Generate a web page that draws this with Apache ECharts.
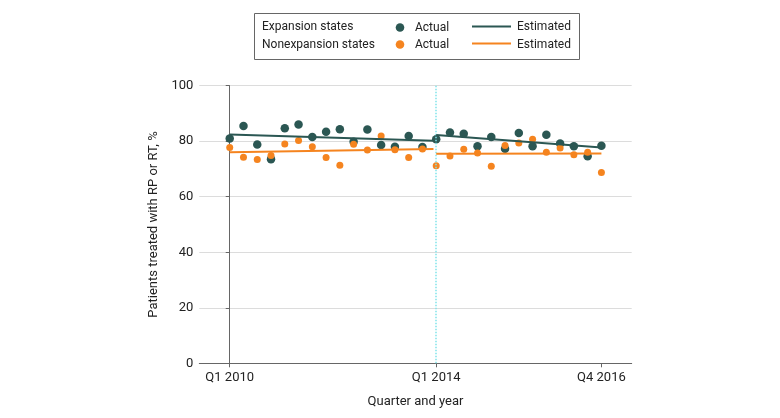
<!DOCTYPE html>
<html>
<head>
<meta charset="utf-8">
<script src="https://cdn.jsdelivr.net/npm/echarts@6/dist/echarts.min.js"></script>
<style>html,body{margin:0;padding:0;background:#fff}#c{width:780px;height:418px}</style>
</head>
<body>
<div id="c"></div>
<script>
// Quarter index 0..27
var tickIndices = [0, 15, 27];
var tickLabels = ["Q1 2010", "Q1 2014", "Q4 2016"];
var breakIndex = 15;

var expansionActual = [81.0, 85.5, 78.8, 73.5, 84.7, 86.0, 81.5, 83.4, 84.3, 79.8, 84.2, 78.6, 78.0, 81.9,
                       77.9, 80.7, 83.1, 82.7, 78.2, 81.5, 77.3, 83.0, 78.2, 82.3, 79.2, 78.2, 74.6, 78.4];
var nonexpansionActual = [77.7, 74.2, 73.4, 74.9, 79.0, 80.3, 78.0, 74.1, 71.3, 78.9, 76.8, 81.9, 76.9, 74.1,
                          77.2, 71.2, 74.7, 77.1, 75.8, 71.0, 78.5, 79.4, 80.7, 76.0, 77.6, 75.1, 76.0, 68.7];
// Estimated trend segments: [quarterIndex, value]
var expansionEstPre = [[0, 82.4], [14.8, 80.2]];
var expansionEstPost = [[15, 82.2], [27, 77.7]];
var nonexpansionEstPre = [[0, 76.0], [14.8, 77.2]];
var nonexpansionEstPost = [[15, 75.5], [27, 75.6]];

var C_EXP = '#2b5753';
var C_NON = '#f5841f';
var FONT = 'Roboto';

function pairs(arr) { return arr.map(function (v, i) { return [i, v]; }); }

var chart = echarts.init(document.getElementById('c'), null, {renderer: 'canvas'});
chart.setOption({
  animation: false,
  textStyle: {fontFamily: FONT},
  grid: {left: 199.3, right: 148.3, top: 85.7, bottom: 54.7, containLabel: false},
  xAxis: {
    type: 'value', min: -2.21, max: 29.2,
    name: 'Quarter and year', nameLocation: 'middle', nameGap: 32,
    nameTextStyle: {fontFamily: FONT, fontSize: 13, color: '#222'},
    axisLine: {show: true, onZero: false, lineStyle: {color: '#666', width: 1}},
    axisTick: {show: true, customValues: tickIndices, length: 4, lineStyle: {color: '#666'}},
    axisLabel: {customValues: tickIndices, fontFamily: FONT, fontSize: 13, color: '#222', margin: 8,
      formatter: function (v) { var k = tickIndices.indexOf(Math.round(v)); return k >= 0 ? tickLabels[k] : ''; }},
    splitLine: {show: false}
  },
  yAxis: {
    type: 'value', min: 0, max: 100, interval: 20,
    name: 'Patients treated with RP or RT, %', nameLocation: 'middle', nameGap: 36, nameRotate: 90,
    nameTextStyle: {fontFamily: FONT, fontSize: 13, color: '#222'},
    axisLine: {show: true, lineStyle: {color: '#666', width: 1}},
    axisTick: {show: true, length: 4, lineStyle: {color: '#666'}},
    axisLabel: {fontFamily: FONT, fontSize: 13, color: '#222', margin: 6},
    splitLine: {show: true, lineStyle: {color: '#dcdcdc', width: 1}}
  },
  series: [
    {type: 'scatter', data: pairs(expansionActual), symbolSize: 8.5, itemStyle: {color: C_EXP, opacity: 1}, z: 3,
     markLine: {silent: true, symbol: 'none', label: {show: false},
       lineStyle: {color: '#7fe3ea', type: 'dotted', width: 1.5}, data: [{xAxis: breakIndex}]}},
    {type: 'scatter', data: pairs(nonexpansionActual), symbolSize: 7, itemStyle: {color: C_NON, opacity: 1}, z: 4},
    {type: 'line', data: expansionEstPre, symbol: 'none', lineStyle: {color: C_EXP, width: 2}, z: 5},
    {type: 'line', data: expansionEstPost, symbol: 'none', lineStyle: {color: C_EXP, width: 2}, z: 5},
    {type: 'line', data: nonexpansionEstPre, symbol: 'none', lineStyle: {color: C_NON, width: 2}, z: 5},
    {type: 'line', data: nonexpansionEstPost, symbol: 'none', lineStyle: {color: C_NON, width: 2}, z: 5}
  ],
  graphic: [
    {type: 'rect', shape: {x: 254.5, y: 13.5, width: 325, height: 46}, style: {fill: 'none', stroke: '#666', lineWidth: 1}},
    {type: 'text', x: 262, y: 27, style: {text: 'Expansion states', font: '12px ' + FONT, fill: '#222', verticalAlign: 'middle'}},
    {type: 'text', x: 262, y: 44.5, style: {text: 'Nonexpansion states', font: '12px ' + FONT, fill: '#222', verticalAlign: 'middle'}},
    {type: 'circle', shape: {cx: 400, cy: 27.5, r: 4.3}, style: {fill: C_EXP}},
    {type: 'circle', shape: {cx: 400, cy: 44.5, r: 4.3}, style: {fill: C_NON}},
    {type: 'text', x: 415, y: 27.5, style: {text: 'Actual', font: '12px ' + FONT, fill: '#222', verticalAlign: 'middle'}},
    {type: 'text', x: 415, y: 44.5, style: {text: 'Actual', font: '12px ' + FONT, fill: '#222', verticalAlign: 'middle'}},
    {type: 'line', shape: {x1: 472, y1: 26.5, x2: 511, y2: 26.5}, style: {stroke: C_EXP, lineWidth: 2}},
    {type: 'line', shape: {x1: 472, y1: 43.5, x2: 511, y2: 43.5}, style: {stroke: C_NON, lineWidth: 2}},
    {type: 'text', x: 517, y: 27, style: {text: 'Estimated', font: '12px ' + FONT, fill: '#222', verticalAlign: 'middle'}},
    {type: 'text', x: 517, y: 44.5, style: {text: 'Estimated', font: '12px ' + FONT, fill: '#222', verticalAlign: 'middle'}}
  ]
});
</script>
</body>
</html>
